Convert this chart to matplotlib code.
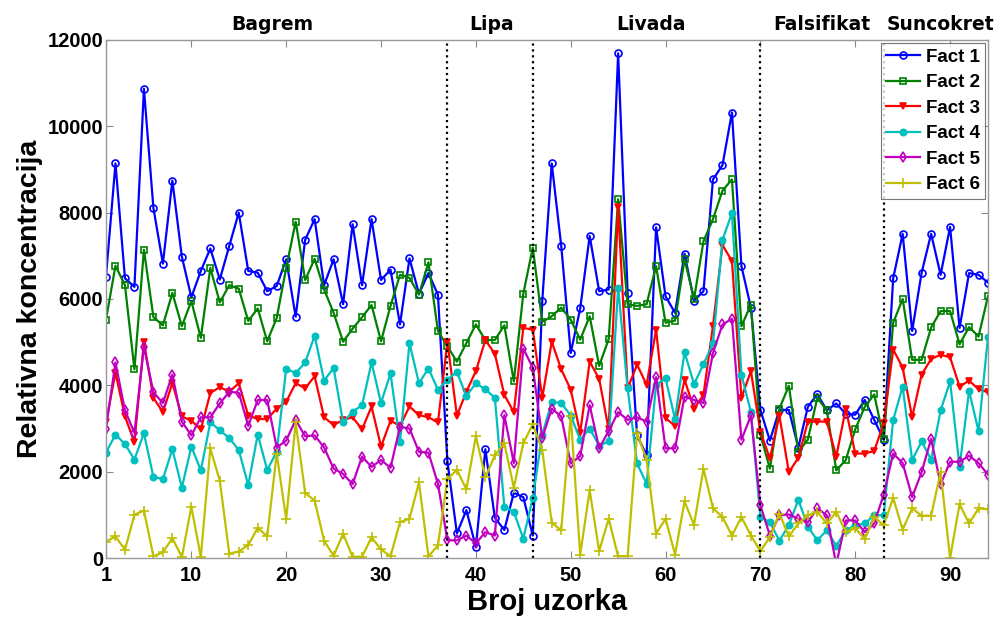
import matplotlib
matplotlib.use("Agg")
import matplotlib.pyplot as plt
import numpy as np

samples = list(range(1, 95))

fact1 = [6520, 9140, 6480, 6280, 10870, 8110, 6820, 8740, 6980, 6040,
         6650, 7170, 6450, 7230, 8000, 6650, 6610, 6180, 6300, 6920,
         5590, 7370, 7850, 6320, 6920, 5880, 7730, 6320, 7850, 6440,
         6680, 5410, 6940, 6120, 6600, 6100, 2240, 570, 1110, 250,
         2520, 930, 650, 1510, 1410, 520, 5960, 9140, 7230, 4750,
         5780, 7460, 6180, 6220, 11690, 6140, 2840, 2380, 7660, 6060,
         5680, 7050, 5960, 6180, 8770, 9100, 10320, 6760, 5800, 3430,
         2720, 3430, 3430, 2560, 3500, 3800, 3420, 3580, 3340, 3320,
         3660, 3200, 2740, 6480, 7510, 5260, 6610, 7510, 6560, 7670,
         5330, 6600, 6560, 6380]

fact2 = [5520, 6770, 6320, 4370, 7140, 5580, 5390, 6140, 5370, 5950,
         5100, 6720, 5920, 6320, 6240, 5490, 5780, 5020, 5560, 6720,
         7790, 6440, 6930, 6220, 5680, 5010, 5310, 5580, 5860, 5020,
         5840, 6560, 6490, 6100, 6850, 5260, 4900, 4550, 4980, 5410,
         5050, 5050, 5390, 4090, 6120, 7190, 5470, 5600, 5800, 5520,
         5060, 5600, 4450, 5070, 8310, 5880, 5840, 5880, 6760, 5450,
         5500, 6920, 6000, 7340, 7850, 8510, 8770, 5370, 5870, 2860,
         2070, 3460, 3990, 2460, 2740, 3710, 3420, 2030, 2270, 2980,
         3500, 3790, 2760, 5450, 6000, 4590, 4590, 5340, 5720, 5720,
         4950, 5350, 5130, 6070]

fact3 = [3140, 4290, 3280, 2680, 5010, 3710, 3380, 4050, 3280, 3180,
         2980, 3820, 3960, 3850, 4050, 3300, 3220, 3220, 3460, 3620,
         4050, 3930, 4210, 3260, 3080, 3200, 3260, 2980, 3510, 2580,
         3180, 3060, 3510, 3310, 3260, 3140, 5010, 3300, 3850, 4330,
         5050, 4730, 3780, 3380, 5330, 5290, 3710, 5010, 4370, 3900,
         2900, 4550, 4150, 2980, 8120, 3930, 4480, 4010, 5290, 3240,
         3060, 4130, 3460, 3780, 5380, 7250, 6880, 3710, 4330, 2920,
         2310, 3300, 1990, 2320, 3160, 3160, 3160, 2350, 3460, 2420,
         2420, 2480, 3120, 4830, 4410, 3260, 4250, 4610, 4710, 4650,
         3970, 4110, 3910, 3840]

fact4 = [2440, 2860, 2640, 2280, 2890, 1880, 1830, 2520, 1630, 2580,
         2030, 3140, 2960, 2780, 2500, 1690, 2860, 2040, 2460, 4390,
         4280, 4530, 5150, 4110, 4400, 3140, 3390, 3540, 4530, 3590,
         4280, 2680, 4980, 4050, 4390, 3900, 4130, 4310, 3750, 4050,
         3910, 3710, 1190, 1070, 450, 1390, 2860, 3620, 3590, 3300,
         2740, 3000, 2600, 2700, 6260, 3930, 2190, 1720, 4010, 4160,
         3220, 4770, 4030, 4490, 4970, 7370, 7990, 4250, 3380, 950,
         830, 400, 760, 1350, 730, 410, 640, 280, 640, 760,
         800, 990, 990, 3200, 3970, 2270, 2700, 2280, 3420, 4090,
         2110, 3870, 2940, 5130]

fact5 = [3000, 4530, 3420, 2900, 4890, 3840, 3590, 4250, 3160, 2840,
         3260, 3260, 3580, 3850, 3830, 3060, 3660, 3660, 2560, 2720,
         3200, 2820, 2840, 2560, 2070, 1950, 1710, 2350, 2110, 2270,
         2090, 3040, 3000, 2460, 2440, 1720, 410, 410, 520, 340,
         600, 520, 3310, 2200, 4850, 4410, 2780, 3460, 3280, 2190,
         2360, 3540, 2540, 2940, 3380, 3200, 3260, 3160, 4190, 2540,
         2540, 3740, 3660, 3590, 4750, 5410, 5540, 2740, 3300, 1220,
         520, 990, 1010, 910, 830, 1150, 990, -150, 870, 870,
         600, 800, 1470, 2420, 2200, 1410, 1990, 2760, 1710, 2230,
         2230, 2370, 2200, 1930]

fact6 = [380, 500, 190, 1000, 1100, 40, 130, 460, 20, 1190,
         20, 2540, 1790, 100, 150, 300, 700, 500, 2420, 900,
         3140, 1510, 1330, 400, 50, 560, 30, 30, 480, 200,
         40, 830, 910, 1750, 40, 290, 1830, 2040, 1590, 2820,
         1870, 2380, 2660, 1630, 2660, 3100, 2500, 820, 640, 3300,
         80, 1570, 160, 910, 40, 40, 2900, 2270, 560, 910,
         80, 1310, 770, 2070, 1150, 950, 520, 950, 520, 160,
         480, 1030, 500, 800, 990, 1070, 800, 1070, 600, 690,
         440, 950, 760, 1390, 660, 1150, 980, 980, 1990, 0,
         1250, 800, 1150, 1130]

series_names = ["Fact 1", "Fact 2", "Fact 3", "Fact 4", "Fact 5", "Fact 6"]
dividers = [37, 46, 70, 83]
region_names = ["Bagrem", "Lipa", "Livada", "Falsifikat", "Suncokret"]
region_centers = [18.5, 41.7, 58.5, 76.5, 89.0]
xticks = [1, 10, 20, 30, 40, 50, 60, 70, 80, 90]
yticks = [0, 2000, 4000, 6000, 8000, 10000, 12000]

colors = [(0, 0, 1), (0, 0.5, 0), (1, 0, 0), (0, 0.75, 0.75), (0.75, 0, 0.75), (0.75, 0.75, 0)]
markers = ['o', 's', 'v', '.', 'd', '+']
msizes = [5, 4.5, 5, 9, 5, 7]
filled = [False, False, True, True, False, True]

fig = plt.figure(figsize=(9.97, 6.17), dpi=100)
ax = fig.add_axes([0.1063, 0.0956, 0.8847, 0.8396])

data = [fact1, fact2, fact3, fact4, fact5, fact6]
for vals, name, c, m, ms, f in zip(data, series_names, colors, markers, msizes, filled):
    ax.plot(samples, vals, color=c, marker=m, markersize=ms, linewidth=1.6,
            markerfacecolor=(c if f else 'none'), markeredgecolor=c,
            markeredgewidth=1.2, label=name, clip_on=True)

for d in dividers:
    ax.axvline(d, color='black', linestyle=':', linewidth=1.6)

ax.set_xlim(1, 94)
ax.set_ylim(0, 12000)
ax.set_xticks(xticks)
ax.set_yticks(yticks)
tick_font = dict(family='Liberation Sans', weight='bold', size=14.5)
ax.set_xticklabels([str(t) for t in xticks], **tick_font)
ax.set_yticklabels([str(t) for t in yticks], **tick_font)
ax.tick_params(axis='x', pad=6)
ax.tick_params(axis='y', pad=2)
ax.tick_params(direction='in', top=True, right=True, length=5, color='#888888')
for s in ax.spines.values():
    s.set_color('#999999')
    s.set_linewidth(1.0)

ax.set_xlabel("Broj uzorka", family='Liberation Sans', weight='bold', size=21, labelpad=2)
ax.set_ylabel("Relativna koncentracija", family='Liberation Sans', weight='bold', size=20.5, labelpad=3)

for name, cx in zip(region_names, region_centers):
    ax.text(cx, 1.012, name, transform=ax.get_xaxis_transform(), ha='center', va='bottom',
            family='DejaVu Sans', weight='bold', size=13.5)

leg = ax.legend(loc='upper right', prop=dict(family='Liberation Sans', weight='bold', size=13.5),
                frameon=True, fancybox=False, borderaxespad=0.15, labelspacing=0.45,
                handlelength=1.8, handletextpad=0.3, borderpad=0.3)
leg.get_frame().set_edgecolor('#555555')
leg.get_frame().set_linewidth(0.8)

fig.savefig("out.png", dpi=100)
